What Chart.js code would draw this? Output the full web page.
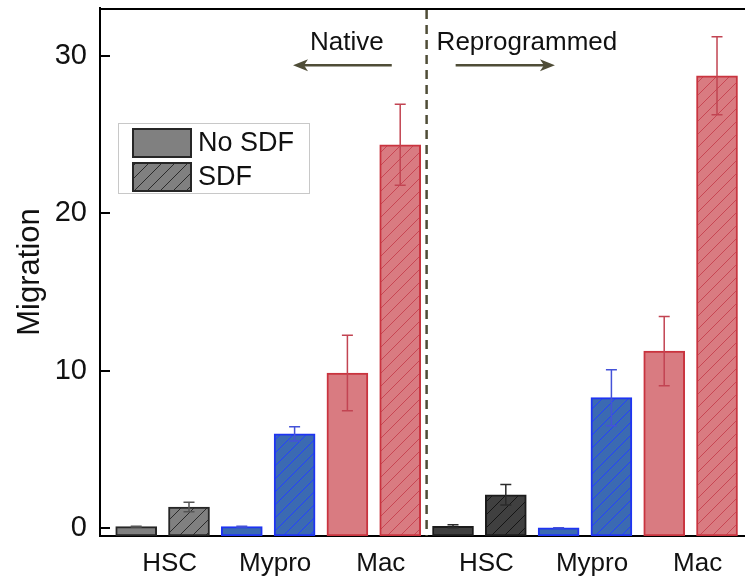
<!DOCTYPE html>
<html>
<head>
<meta charset="utf-8">
<script src="https://cdn.jsdelivr.net/npm/chart.js@4/dist/chart.umd.min.js"></script>
<style>
  html, body { margin: 0; padding: 0; background: #fff; }
  canvas { display: block; }
</style>
</head>
<body>
<canvas id="chart" width="745" height="582"></canvas>
<script>
// Cell types, two per section (Native, then Reprogrammed)
const groups = ['HSC', 'Mypro', 'Mac', 'HSC', 'Mypro', 'Mac'];
const sections = ['Native', 'Reprogrammed'];
const seriesNames = ['No SDF', 'SDF'];

// Migration without / with SDF, and their error half-widths
const noSdf    = [0.12, 0.12, 9.87, 0.14, 0.05, 11.26];
const noSdfErr = [0.03, 0.03, 2.40, 0.10, 0.00, 2.20];
const sdf      = [1.36, 6.00, 24.35, 2.14, 8.30, 28.73];
const sdfErr   = [0.30, 0.45, 2.57, 0.65, 1.78, 2.47];

const yTicks = [0, 10, 20, 30];

// Styling per cell type
const fills   = ['#808080', '#3b6ab2', '#d97b81', '#404040', '#3b6ab2', '#d97b81'];
const borders = ['#262626', '#1e34f2', '#c9343f', '#1c1c1c', '#1e34f2', '#c9343f'];
const hatchLn = ['#2b2b2b', '#2440ff', '#c84653', '#151515', '#2440ff', '#c84653'];
const errCols = ['#555555', '#4452d8', '#c24452', '#2a2a2a', '#4452d8', '#c24452'];

const FONT = "'Liberation Sans', Arial, Helvetica, sans-serif";
const INK = '#111111';
const ARROW = '#4f4d37';
const Y_MIN = -0.476, Y_MAX = 33.03;

function hatch(fill, line) {
  const s = 13;
  const cv = document.createElement('canvas');
  cv.width = s; cv.height = s;
  const g = cv.getContext('2d');
  g.fillStyle = fill;
  g.fillRect(0, 0, s, s);
  g.strokeStyle = line;
  g.lineWidth = 1;
  g.beginPath();
  g.moveTo(0, s); g.lineTo(s, 0);
  g.moveTo(-1, 1); g.lineTo(1, -1);
  g.moveTo(s - 1, s + 1); g.lineTo(s + 1, s - 1);
  g.stroke();
  return g.createPattern(cv, 'repeat');
}

// Bar positions along the linear x axis: each cell type occupies two slots
const xNo  = groups.map((_, i) => 2 * i + 1);
const xSdf = groups.map((_, i) => 2 * i + 2);
const groupCenters = groups.map((_, i) => 2 * i + 1.5);

const datasets = [
  {
    label: seriesNames[0],
    data: noSdf.map((v, i) => ({ x: xNo[i], y: v })),
    err: noSdfErr,
    backgroundColor: fills.slice(),
    borderColor: borders.slice(),
  },
  {
    label: seriesNames[1],
    data: sdf.map((v, i) => ({ x: xSdf[i], y: v })),
    err: sdfErr,
    backgroundColor: fills.map((f, i) => hatch(f, hatchLn[i])),
    borderColor: borders.slice(),
  }
].map(d => Object.assign(d, {
  borderWidth: 2,
  borderSkipped: false,
  barThickness: 41,
  grouped: false,
  base: Y_MIN,
  errColors: errCols
}));

// Error bars drawn on top of each bar
const errorBars = {
  id: 'errorBars',
  afterDatasetsDraw(chart) {
    const { ctx } = chart;
    const y = chart.scales.y;
    chart.data.datasets.forEach((ds, di) => {
      const meta = chart.getDatasetMeta(di);
      meta.data.forEach((bar, i) => {
        const v = ds.data[i].y, e = ds.err[i];
        const top = y.getPixelForValue(v + e), bot = y.getPixelForValue(v - e);
        ctx.save();
        ctx.strokeStyle = ds.errColors[i];
        ctx.lineWidth = 1.5;
        ctx.beginPath();
        ctx.moveTo(bar.x, top); ctx.lineTo(bar.x, bot);
        ctx.moveTo(bar.x - 5.5, top); ctx.lineTo(bar.x + 5.5, top);
        ctx.moveTo(bar.x - 5.5, bot); ctx.lineTo(bar.x + 5.5, bot);
        ctx.stroke();
        ctx.restore();
      });
    });
  }
};

// Frame top line and inward y ticks
const frame = {
  id: 'frame',
  afterDraw(chart) {
    const { ctx, chartArea: a } = chart;
    const y = chart.scales.y;
    ctx.save();
    ctx.strokeStyle = '#000';
    ctx.lineWidth = 2;
    ctx.beginPath();
    ctx.moveTo(a.left - 1, a.top + 1); ctx.lineTo(a.right, a.top + 1);
    yTicks.forEach(t => {
      const py = Math.round(y.getPixelForValue(t));
      ctx.moveTo(a.left, py); ctx.lineTo(a.left + 10, py);
    });
    ctx.stroke();
    ctx.restore();
  }
};

// Section divider and direction arrows with their labels
const sectionMarks = {
  id: 'sectionMarks',
  afterDatasetsDraw(chart, args, opts) {
    const { ctx, chartArea: a } = chart;
    const x = chart.scales.x, y = chart.scales.y;
    ctx.save();
    // dashed divider between the two sections
    const dx = x.getPixelForValue(opts.divider);
    ctx.strokeStyle = ARROW;
    ctx.lineWidth = 2.5;
    ctx.setLineDash([9, 6]);
    ctx.beginPath();
    ctx.moveTo(dx, a.top + 2); ctx.lineTo(dx, a.bottom);
    ctx.stroke();
    ctx.setLineDash([]);

    ctx.font = `26px ${FONT}`;
    ctx.textAlign = 'center';
    ctx.textBaseline = 'middle';
    opts.items.forEach((it, k) => {
      ctx.fillStyle = INK;
      ctx.fillText(sections[k], x.getPixelForValue(it.text), y.getPixelForValue(opts.textY));
      const x0 = x.getPixelForValue(it.from), x1 = x.getPixelForValue(it.to);
      const py = y.getPixelForValue(opts.arrowY);
      const dir = Math.sign(x1 - x0);
      ctx.strokeStyle = ARROW;
      ctx.fillStyle = ARROW;
      ctx.lineWidth = 2.5;
      ctx.beginPath();
      ctx.moveTo(x0, py); ctx.lineTo(x1 - dir * 6, py);
      ctx.stroke();
      ctx.beginPath();
      ctx.moveTo(x1, py);
      ctx.lineTo(x1 - dir * 15, py - 6);
      ctx.lineTo(x1 - dir * 11, py);
      ctx.lineTo(x1 - dir * 15, py + 6);
      ctx.closePath();
      ctx.fill();
    });
    ctx.restore();
  }
};

// Legend box inside the plot area
const boxLegend = {
  id: 'boxLegend',
  afterDraw(chart, args, opts) {
    const { ctx, chartArea: a } = chart;
    const L = a.left + opts.left, T = a.top + opts.top;
    ctx.save();
    ctx.strokeStyle = '#c8c8c8';
    ctx.lineWidth = 1;
    ctx.strokeRect(L + 0.5, T + 0.5, opts.width, opts.height);
    chart.data.datasets.forEach((ds, i) => {
      const sx = L + 14, sy = T + 5 + i * 34;
      ctx.fillStyle = ds.backgroundColor[0];
      ctx.fillRect(sx, sy, 60, 30);
      ctx.strokeStyle = '#262626';
      ctx.lineWidth = 2;
      ctx.strokeRect(sx + 1, sy + 1, 58, 28);
      ctx.fillStyle = INK;
      ctx.font = `27px ${FONT}`;
      ctx.textAlign = 'left';
      ctx.textBaseline = 'middle';
      ctx.fillText(ds.label, sx + 66, sy + 16);
    });
    ctx.restore();
  }
};

function noEdgePadding(scale) {
  scale.paddingTop = 0; scale.paddingBottom = 0;
  scale.paddingLeft = 0; scale.paddingRight = 0;
}

new Chart(document.getElementById('chart'), {
  type: 'bar',
  data: { datasets },
  plugins: [errorBars, sectionMarks, frame, boxLegend],
  options: {
    responsive: false,
    animation: false,
    layout: { padding: { top: 8, right: 0, bottom: 0, left: 0 } },
    plugins: {
      legend: { display: false },
      tooltip: { enabled: false },
      sectionMarks: {
        divider: 6.5,
        textY: 30.8,
        arrowY: 29.4,
        items: [
          { text: 4.99, from: 5.84, to: 3.97 },
          { text: 8.40, from: 7.05, to: 8.93 }
        ]
      },
      boxLegend: { left: 18, top: 115, width: 191, height: 70 }
    },
    scales: {
      x: {
        type: 'linear',
        offset: false,
        min: 0.3144,
        max: 12.53,
        grid: { display: false, drawTicks: false },
        border: { display: true, color: '#000', width: 2 },
        afterBuildTicks(scale) { scale.ticks = groupCenters.map(v => ({ value: v })); },
        afterFit(scale) { scale.height = 46; noEdgePadding(scale); },
        ticks: {
          autoSkip: false,
          maxRotation: 0,
          padding: 12,
          labelOffset: 7,
          color: INK,
          font: { family: FONT, size: 26 },
          callback: (v) => groups[groupCenters.indexOf(v)]
        }
      },
      y: {
        min: Y_MIN,
        max: Y_MAX,
        grid: { display: false, drawTicks: false },
        border: { display: true, color: '#000', width: 2 },
        afterBuildTicks(scale) { scale.ticks = yTicks.map(v => ({ value: v })); },
        afterFit(scale) { scale.width = 100; noEdgePadding(scale); },
        ticks: {
          padding: 13,
          color: INK,
          font: { family: FONT, size: 29 }
        },
        title: {
          display: true,
          text: 'Migration',
          color: INK,
          padding: { top: 12, bottom: 0 },
          font: { family: FONT, size: 31 }
        }
      }
    }
  }
});
</script>
</body>
</html>
